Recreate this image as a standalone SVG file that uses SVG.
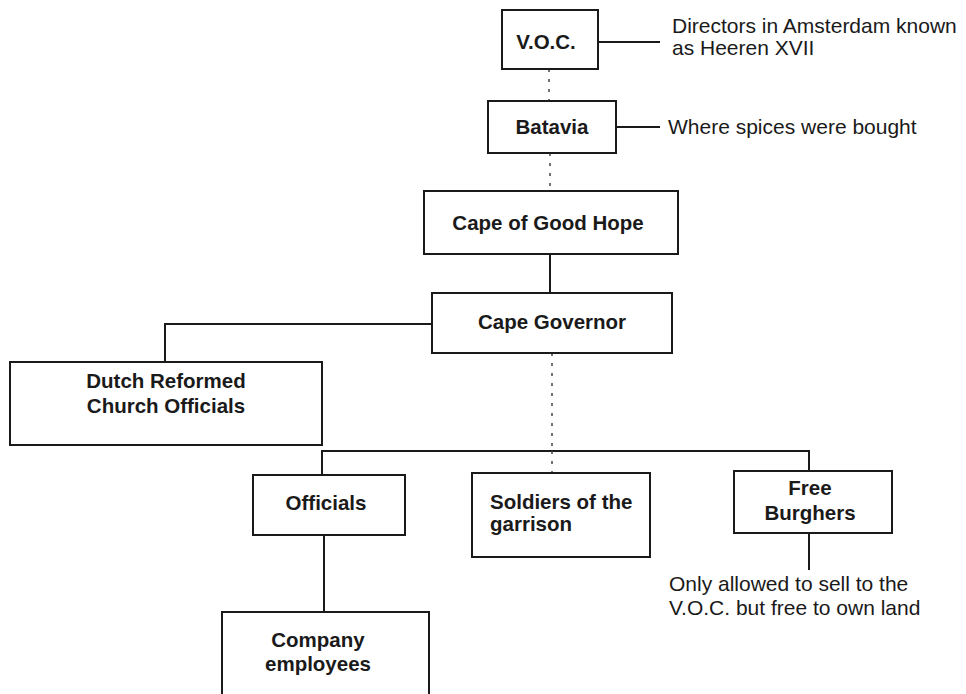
<svg xmlns="http://www.w3.org/2000/svg" width="966" height="694" viewBox="0 0 966 694">
<style>
.box{fill:#fff;stroke:#1a1a1a;stroke-width:2}
.ln{fill:none;stroke:#1a1a1a;stroke-width:2}
.dot{fill:none;stroke:#444;stroke-width:1.5;stroke-dasharray:3 7}
.b{font-family:"Liberation Sans",Arial,sans-serif;font-weight:bold;font-size:20.5px;fill:#1a1a1a}
.r{font-family:"Liberation Sans",Arial,sans-serif;font-size:21px;fill:#1a1a1a}
.c{text-anchor:middle}
</style>
<rect width="966" height="694" fill="#fff"/>
<g id="connectors">
<line class="ln" x1="598" y1="42" x2="660" y2="42"/>
<line class="ln" x1="616" y1="127" x2="660" y2="127"/>
<line class="dot" x1="549" y1="69" x2="549" y2="101"/>
<line class="dot" x1="550" y1="153" x2="550" y2="191"/>
<line class="ln" x1="550" y1="254" x2="550" y2="293"/>
<polyline class="ln" points="432,324 165,324 165,362"/>
<line class="dot" x1="552" y1="353" x2="552" y2="451"/>
<polyline class="ln" points="322,475 322,451 809,451 809,471"/>
<line class="dot" x1="552" y1="451" x2="552" y2="473"/>
<line class="ln" x1="809" y1="533" x2="809" y2="570"/>
<line class="ln" x1="324" y1="535" x2="324" y2="612"/>
</g>
<g id="voc">
<rect class="box" x="502" y="10" width="96" height="59"/>
<text class="b c" x="546" y="49">V.O.C.</text>
</g>
<g id="voc-note">
<text class="r" x="672" y="33">Directors in Amsterdam known</text>
<text class="r" x="672" y="55">as Heeren XVII</text>
</g>
<g id="batavia">
<rect class="box" x="488" y="101" width="128" height="52"/>
<text class="b c" x="552" y="134">Batavia</text>
</g>
<g id="batavia-note">
<text class="r" x="668" y="134">Where spices were bought</text>
</g>
<g id="cape">
<rect class="box" x="424" y="191" width="254" height="63"/>
<text class="b c" x="548" y="230">Cape of Good Hope</text>
</g>
<g id="governor">
<rect class="box" x="432" y="293" width="240" height="60"/>
<text class="b c" x="552" y="329">Cape Governor</text>
</g>
<g id="church">
<rect class="box" x="10" y="362" width="312" height="83"/>
<text class="b c" x="166" y="388">Dutch Reformed</text>
<text class="b c" x="166" y="413">Church Officials</text>
</g>
<g id="officials">
<rect class="box" x="253" y="475" width="152" height="60"/>
<text class="b c" x="326" y="510">Officials</text>
</g>
<g id="soldiers">
<rect class="box" x="472" y="473" width="178" height="84"/>
<text class="b" x="490" y="509">Soldiers of the</text>
<text class="b" x="490" y="531">garrison</text>
</g>
<g id="burghers">
<rect class="box" x="734" y="471" width="158" height="62"/>
<text class="b c" x="810" y="495">Free</text>
<text class="b c" x="810" y="520">Burghers</text>
</g>
<g id="burghers-note">
<text class="r" x="669" y="591">Only allowed to sell to the</text>
<text class="r" x="669" y="615">V.O.C. but free to own land</text>
</g>
<g id="employees">
<rect class="box" x="222" y="612" width="207" height="100"/>
<text class="b c" x="318" y="647">Company</text>
<text class="b c" x="318" y="671">employees</text>
</g>
</svg>
